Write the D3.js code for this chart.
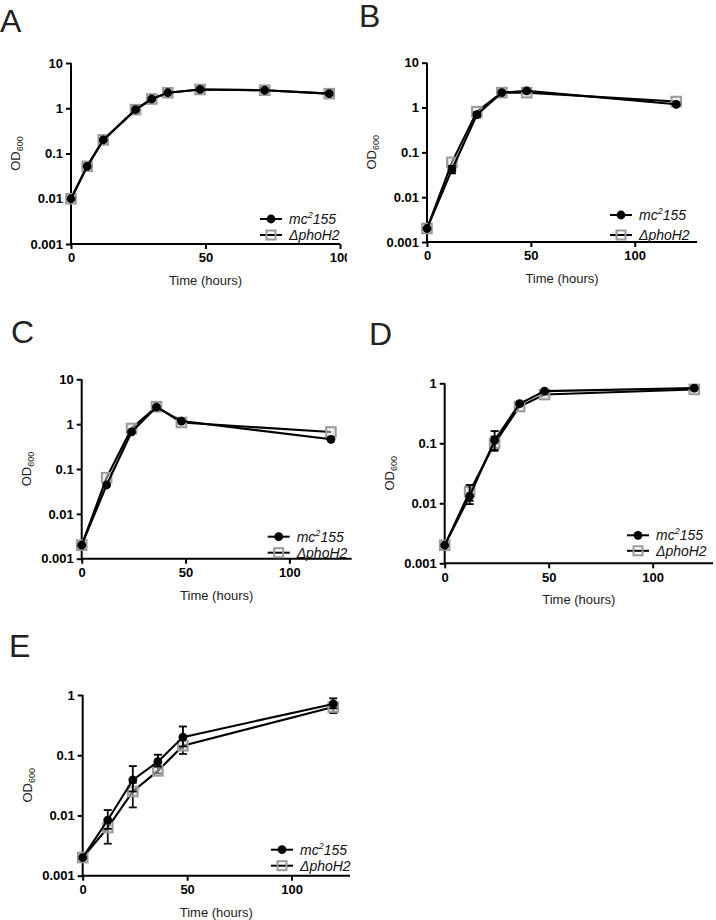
<!DOCTYPE html>
<html><head><meta charset="utf-8">
<script src="https://cdn.jsdelivr.net/npm/d3@7/dist/d3.min.js"></script>
<style>
html,body{margin:0;padding:0;background:#fff;}
svg{display:block;font-family:"Liberation Sans",Arial,sans-serif;}
</style></head>
<body>
<svg id="chart" width="716" height="920"></svg>
<script>
// ---------- data ----------
const seriesNames = ["mc2155", "ΔphoH2"];
const panelLetters = ["A", "B", "C", "D", "E"];
const xTicks = [0, 50, 100];
const yTicksWide = [0.001, 0.01, 0.1, 1, 10];
const yTicksNarrow = [0.001, 0.01, 0.1, 1];
const yTickLabels = {0.001: "0.001", 0.01: "0.01", 0.1: "0.1", 1: "1", 10: "10"};

const timesA = [0, 6, 12, 24, 30, 36, 48, 72, 96];
const mcA = [0.01, 0.052, 0.2, 0.93, 1.6, 2.2, 2.6, 2.5, 2.1];
const phoA = [0.01, 0.052, 0.2, 0.93, 1.6, 2.2, 2.6, 2.5, 2.1];

const timesB = [0, 12, 24, 36, 48, 120];
const mcB = [0.002, 0.041, 0.69, 2.15, 2.35, 1.18];
const phoB = [0.002, 0.06, 0.81, 2.15, 2.15, 1.36];
const mcErrB = [null, [0.034, 0.05], [0.6, 0.78], null, null, null];
const phoErrB = [null, null, null, null, null, null];

const timesC = [0, 12, 24, 36, 48, 120];
const mcC = [0.002, 0.044, 0.67, 2.4, 1.17, 0.46];
const phoC = [0.002, 0.064, 0.8, 2.45, 1.09, 0.67];

const timesD = [0, 12, 24, 36, 48, 120];
const mcD = [0.002, 0.0132, 0.112, 0.457, 0.74, 0.83];
const phoD = [0.002, 0.0156, 0.1, 0.41, 0.65, 0.79];
const mcErrD = [null, [0.0097, 0.0202], [0.075, 0.16], null, null, null];
const phoErrD = [null, [0.011, 0.019], [0.08, 0.13], null, null, null];

const timesE = [0, 12, 24, 36, 48, 120];
const mcE = [0.002, 0.0084, 0.039, 0.078, 0.2, 0.71];
const phoE = [0.002, 0.0063, 0.025, 0.055, 0.144, 0.63];
const mcErrE = [null, [0.006, 0.0123], [0.025, 0.066], [0.065, 0.102], [0.14, 0.3], [0.6, 0.88]];
const phoErrE = [null, [0.0034, 0.0085], [0.0136, 0.035], [0.05, 0.065], [0.105, 0.19], [0.5, 0.76]];

// ---------- layout ----------
const panels = [
  {letter: "A", lx: 0, ly: 32, x0: 71, x1: 340, xMax: 100, yTop: 63, yBot: 244, yTicks: yTicksWide,
   times: timesA, mc: mcA, pho: phoA, mcErr: null, phoErr: null, legX: -69, legY: -25, legDy: 16, clipR: 347},
  {letter: "B", lx: 359, ly: 27, x0: 427, x1: 697, xMax: 130, yTop: 62.7, yBot: 242, yTicks: yTicksWide,
   times: timesB, mc: mcB, pho: phoB, mcErr: mcErrB, phoErr: phoErrB, legX: -76, legY: -27, legDy: 20},
  {letter: "C", lx: 11, ly: 343, x0: 81.7, x1: 351.7, xMax: 130, yTop: 379.3, yBot: 558.7, yTicks: yTicksWide,
   times: timesC, mc: mcC, pho: phoC, mcErr: null, phoErr: null, legX: -73, legY: -22, legDy: 16},
  {letter: "D", lx: 369, ly: 345, x0: 444.7, x1: 713, xMax: 129, yTop: 383.3, yBot: 563.3, yTicks: yTicksNarrow,
   times: timesD, mc: mcD, pho: phoD, mcErr: mcErrD, phoErr: phoErrD, legX: -75, legY: -28, legDy: 15.5},
  {letter: "E", lx: 9, ly: 657, x0: 82.7, x1: 350, xMax: 128, yTop: 695, yBot: 875.7, yTicks: yTicksNarrow,
   times: timesE, mc: mcE, pho: phoE, mcErr: mcErrE, phoErr: phoErrE, legX: -68, legY: -26, legDy: 16}
];

const svg = d3.select("#chart");
const defs = svg.append("defs");

panels.forEach((p, pi) => {
  let g = svg.append("g");
  if (p.clipR) {
    defs.append("clipPath").attr("id", "clip" + pi)
      .append("rect").attr("x", 0).attr("y", 40).attr("width", p.clipR).attr("height", 260);
    g.attr("clip-path", "url(#clip" + pi + ")");
  }
  // letter
  svg.append("text").attr("x", p.lx).attr("y", p.ly)
    .attr("font-size", 32).attr("font-weight", 300).attr("fill", "#222")
    .text(p.letter);

  const yMax = p.yTicks[p.yTicks.length - 1];
  const x = d3.scaleLinear().domain([0, p.xMax]).range([p.x0, p.x1]);
  const y = d3.scaleLog().domain([0.001, yMax]).range([p.yBot, p.yTop]);

  // axes
  const xAxis = d3.axisBottom(x).tickValues(xTicks).tickSize(5).tickPadding(4).tickFormat(d3.format("d"));
  const yAxis = d3.axisLeft(y).tickValues(p.yTicks).tickSize(5).tickPadding(3).tickFormat(d => yTickLabels[d]);
  const gx = g.append("g").attr("transform", `translate(0,${p.yBot})`).call(xAxis);
  const gy = g.append("g").attr("transform", `translate(${p.x0},0)`).call(yAxis);
  [gx, gy].forEach(a => {
    a.attr("font-size", 13).attr("font-family", "Liberation Sans, Arial, sans-serif");
    a.select(".domain").attr("stroke", "#000").attr("stroke-width", 2);
    a.selectAll(".tick line").attr("stroke", "#000").attr("stroke-width", 2);
    a.selectAll(".tick text").attr("font-size", 13).attr("font-weight", "bold").attr("fill", "#000");
  });
  gx.select(".domain").attr("d", `M${p.x0},0H${p.x1}`);
  gy.select(".domain").attr("d", `M0,${p.yBot}V${p.yTop}`);

  // axis titles
  g.append("text").attr("x", (p.x0 + p.x1) / 2).attr("y", p.yBot + 41)
    .attr("text-anchor", "middle").attr("font-size", 13).attr("fill", "#222")
    .text("Time (hours)");
  const yl = g.append("text")
    .attr("transform", `translate(${p.x0 - 51},${(p.yTop + p.yBot) / 2}) rotate(-90)`)
    .attr("text-anchor", "middle").attr("font-size", 13).attr("fill", "#222");
  yl.append("tspan").text("OD");
  yl.append("tspan").attr("font-size", 9).attr("dy", 3).text("600");

  const line = d3.line().x(d => x(d[0])).y(d => y(d[1]));
  const phoPts = p.times.map((t, i) => [t, p.pho[i]]);
  const mcPts = p.times.map((t, i) => [t, p.mc[i]]);

  function errBars(errs, color) {
    if (!errs) return;
    errs.forEach((e, i) => {
      if (!e) return;
      const cx = x(p.times[i]);
      g.append("line").attr("x1", cx).attr("x2", cx).attr("y1", y(e[0])).attr("y2", y(e[1]))
        .attr("stroke", color).attr("stroke-width", 1.8);
      [e[0], e[1]].forEach(v => {
        g.append("line").attr("x1", cx - 4).attr("x2", cx + 4).attr("y1", y(v)).attr("y2", y(v))
          .attr("stroke", color).attr("stroke-width", 1.8);
      });
    });
  }

  // ΔphoH2 series (beneath)
  g.append("path").datum(phoPts).attr("d", line).attr("fill", "none")
    .attr("stroke", "#000").attr("stroke-width", 2.1);
  errBars(p.phoErr, "#111");
  g.selectAll(null).data(phoPts).enter().append("rect")
    .attr("x", d => x(d[0]) - 4.8).attr("y", d => y(d[1]) - 4.8)
    .attr("width", 9.6).attr("height", 9.6)
    .attr("fill", "#d8d8d8").attr("fill-opacity", 0.5)
    .attr("stroke", "#9a9a9a").attr("stroke-width", 2);

  // mc2155 series
  g.append("path").datum(mcPts).attr("d", line).attr("fill", "none")
    .attr("stroke", "#000").attr("stroke-width", 2.1);
  errBars(p.mcErr, "#000");
  g.selectAll(null).data(mcPts).enter().append("circle")
    .attr("cx", d => x(d[0])).attr("cy", d => y(d[1])).attr("r", 4.4).attr("fill", "#000");

  // legend
  const lgx = p.x1 + p.legX, lgy = p.yBot + p.legY;
  [0, 1].forEach(k => {
    const yy = lgy + k * p.legDy;
    g.append("line").attr("x1", lgx - 11).attr("x2", lgx + 11).attr("y1", yy).attr("y2", yy)
      .attr("stroke", "#000").attr("stroke-width", 2);
    if (k === 0) {
      g.append("circle").attr("cx", lgx).attr("cy", yy).attr("r", 4.4).attr("fill", "#000");
    } else {
      g.append("rect").attr("x", lgx - 4.5).attr("y", yy - 4.5).attr("width", 9).attr("height", 9)
        .attr("fill", "none").attr("stroke", "#9a9a9a").attr("stroke-width", 2);
    }
    const t = g.append("text").attr("x", lgx + 18).attr("y", yy + 5)
      .attr("font-size", 14).attr("font-style", "italic").attr("fill", "#111");
    if (k === 0) {
      t.append("tspan").text("mc");
      t.append("tspan").attr("font-size", 9).attr("dy", -6).text("2");
      t.append("tspan").attr("dy", 6).text("155");
    } else {
      t.text(seriesNames[1]);
    }
  });
});
</script>
</body></html>
